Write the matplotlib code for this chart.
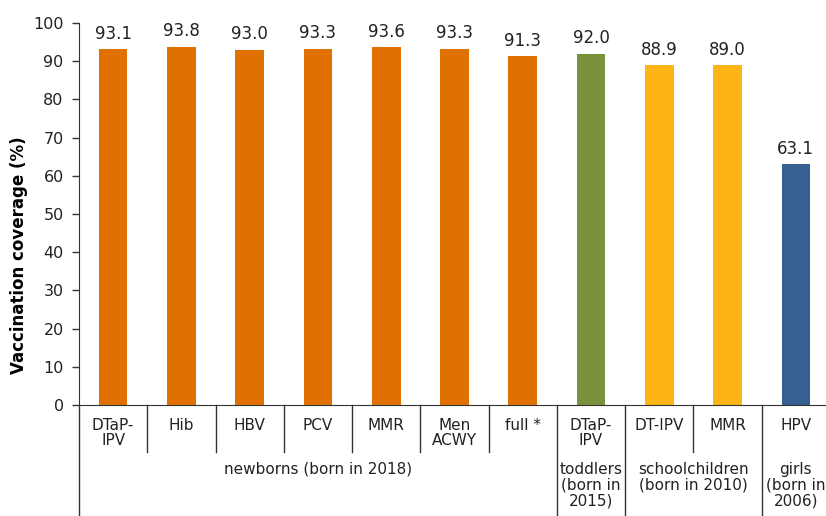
import matplotlib
matplotlib.use("Agg")
import matplotlib.pyplot as plt

# Vaccination coverage by vaccine and cohort
vaccines = ["DTaP-\nIPV", "Hib", "HBV", "PCV", "MMR", "Men\nACWY", "full *",
            "DTaP-\nIPV", "DT-IPV", "MMR", "HPV"]
coverage = [93.1, 93.8, 93.0, 93.3, 93.6, 93.3, 91.3, 92.0, 88.9, 89.0, 63.1]
cohort_of_bar = [0, 0, 0, 0, 0, 0, 0, 1, 2, 2, 3]

cohorts = ["newborns (born in 2018)", "toddlers\n(born in\n2015)",
           "schoolchildren\n(born in 2010)", "girls\n(born in\n2006)"]
cohort_colors = ["#E07000", "#79933C", "#FDB515", "#375F92"]
y_ticks = list(range(0, 101, 10))

plt.rcParams["font.family"] = ["DejaVu Sans"]

fig = plt.figure(figsize=(8.26, 5.16), dpi=100)
ax = fig.add_axes([79 / 826, 1 - 405 / 516, (830 - 79) / 826, (405 - 23) / 516])

x = list(range(len(vaccines)))
colors = [cohort_colors[c] for c in cohort_of_bar]
bars = ax.bar(x, coverage, width=0.42, color=colors, zorder=2)

for xi, v in zip(x, coverage):
    ax.annotate(f"{v:.1f}", (xi, v), xytext=(0, 4.5), textcoords="offset points",
                ha="center", va="bottom", fontsize=12, color="#222222")

ax.set_xlim(-0.5, len(vaccines) - 0.5)
ax.set_ylim(0, 100)
ax.set_yticks(y_ticks)
ax.tick_params(axis="y", direction="out", length=5, width=1, labelsize=11.5,
               colors="#333333", labelcolor="#222222", pad=6)
ax.set_xticks([])
for s in ("top", "right"):
    ax.spines[s].set_visible(False)
ax.spines["left"].set_color("#333333")
ax.spines["bottom"].set_color("#333333")
ax.spines["left"].set_bounds(0, 100)

ax.set_ylabel("Vaccination coverage (%)", fontsize=12, fontweight="bold")
ax.yaxis.set_label_coords((28 - 79) / 751, (405 - 255) / 382)

trans = ax.get_xaxis_transform()
axes_h = 405 - 23

def frac(px):
    return -(px - 405) / axes_h

# vaccine labels below the axis
for xi, lab in zip(x, vaccines):
    ax.text(xi, frac(418), lab, transform=trans, ha="center", va="top",
            fontsize=11, color="#222222", linespacing=1.0)

# separators between bars
group_edges = {6.5, 7.5, 9.5}
for e in [i + 0.5 for i in range(len(vaccines) - 1)]:
    bottom = frac(516) if e in group_edges else frac(452)
    ax.plot([e, e], [0, bottom], transform=trans, color="#333333", lw=1,
            clip_on=False)
ax.plot([-0.5, -0.5], [0, frac(516)], transform=trans, color="#333333", lw=1,
        clip_on=False)

# cohort labels
cohort_centers = [3.0, 7.0, 8.5, 10.0]
for cx, lab in zip(cohort_centers, cohorts):
    ax.text(cx, frac(462), lab, transform=trans, ha="center", va="top",
            fontsize=11, color="#222222", linespacing=1.05)

fig.savefig("out.png", dpi=100)
